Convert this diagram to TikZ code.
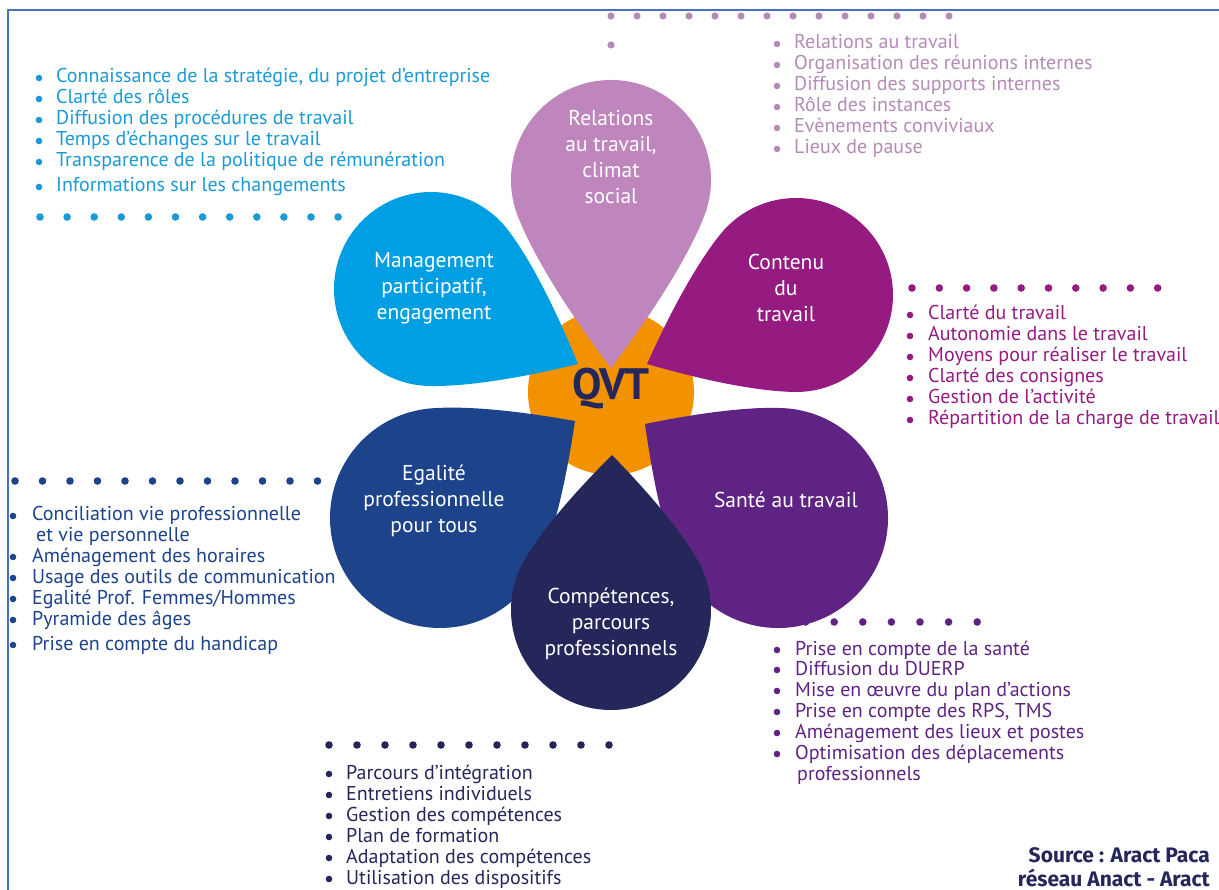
\documentclass[tikz,border=0pt]{standalone}
\usepackage{fontspec}
\setmainfont{PT Sans}
\newfontfamily\srcfont{Fira Sans}
\usetikzlibrary{calc}
\definecolor{cyanP}{HTML}{009FE3}
\definecolor{cyanT}{HTML}{1A9AD6}
\definecolor{lilaP}{HTML}{BE86BD}
\definecolor{lilaT}{HTML}{B48CB6}
\definecolor{magP}{HTML}{951B81}
\definecolor{blueP}{HTML}{1D438B}
\definecolor{purP}{HTML}{5F2483}
\definecolor{navyP}{HTML}{25275B}
\definecolor{orangeP}{HTML}{F39200}
\definecolor{frameC}{HTML}{4472C4}
\tikzset{
  item/.style={anchor=base west, inner sep=0pt, font=\fontsize{20}{21}\selectfont},
  ptxt/.style={text=white, align=center, inner sep=0pt, font=\fontsize{21.5}{26}\selectfont},
  srctxt/.style={anchor=base east, inner sep=0pt, text=navyP, font=\srcfont\bfseries\fontsize{21}{24}\selectfont},
}
\newcommand\bg{17}
% list item: name, x of text, y of line centre, text
\newcommand\li[4]{\fill (#2-\bg,-#3) circle[radius=3.3pt]; \node[item] (#1) at (#2,-#3-5) {#4};}
% dotted row: x0, y, spacing, last index, radius
\newcommand\dotrow[5]{\foreach \i in {0,...,#4} \fill (#1+\i*#3,-#2) circle[radius=#5pt];}
% petal (drop): name, colour, cx, cy, R, tipx, tipy
\newcommand\petal[7]{%
  \coordinate (#1c) at (#3,-#4);
  \coordinate (#1t) at (#6,-#7);
  \path let \p1=($(#1t)-(#1c)$), \n1={veclen(\x1,\y1)}, \n2={atan2(\y1,\x1)},
            \n3={acos(#5/\n1)+10}, \n4={0.40*\n1*sin(\n3-10)} in
    ($(#1c)+(\n2+\n3:#5pt)$) coordinate (#1A)
    ($(#1c)+(\n2+\n3:#5pt)+(\n2+\n3-90:\n4)$) coordinate (#1Ac)
    ($(#1c)+(\n2-\n3:#5pt)$) coordinate (#1B)
    ($(#1c)+(\n2-\n3:#5pt)+(\n2-\n3+90:\n4)$) coordinate (#1Bc);
  \fill[#2] let \p1=($(#1t)-(#1c)$), \n1={veclen(\x1,\y1)}, \n2={atan2(\y1,\x1)},
            \n3={acos(#5/\n1)+10} in
    (#1t) .. controls ($(#1t)!0.25!(#1Ac)$) and (#1Ac) .. (#1A)
    arc[start angle=\n2+\n3, end angle=\n2+360-\n3, radius=#5pt]
    .. controls (#1Bc) and ($(#1t)!0.25!(#1Bc)$) .. (#1t) -- cycle;
}
\begin{document}
\begin{tikzpicture}[x=1pt,y=1pt]
\useasboundingbox (0,0) rectangle (1219,-890);
\fill[white] (0,0) rectangle (1219,-890);
\draw[frameC, line width=2.2pt] (1219,-10) -- (8,-10) -- (8,-890);

% centre
\fill[orangeP] (611,-392) circle[radius=83pt];
\petal{rel}{lilaP}{611}{180}{100}{611}{368}
\petal{man}{cyanP}{431}{289}{97}{578}{364}
\petal{con}{magP}{796}{295}{97}{647}{364}
\petal{ega}{blueP}{440}{518}{110}{575}{421}
\petal{san}{purP}{778}{518}{110}{645}{424}
\petal{com}{navyP}{611}{610}{100}{612}{455}
\node[text=navyP, font=\bfseries\fontsize{44}{46}\selectfont, inner sep=0pt] (qvt) at (611,-389) {QVT};

\node[ptxt] (trel) at (611,-157) {Relations\\au travail,\\climat\\social};
\node[ptxt] (tman) at (434,-288) {Management\\participatif,\\engagement};
\node[ptxt] (tcon) at (786,-288) {Contenu\\du\\travail};
\node[ptxt] (tega) at (434,-501) {Egalité\\professionnelle\\pour tous};
\node[ptxt] (tsan) at (786,-500) {Santé au travail};
\node[ptxt] (tcom) at (611,-624) {Compétences,\\parcours\\professionnels};

% top-left list
\begin{scope}[color=cyanT]
\renewcommand\bg{17}
\li{a1}{56}{78}{Connaissance de la stratégie, du projet d’entreprise}
\li{a2}{56}{99}{Clarté des rôles}
\li{a3}{56}{120}{Diffusion des procédures de travail}
\li{a4}{56}{141}{Temps d’échanges sur le travail}
\li{a5}{56}{162}{Transparence de la politique de rémunération}
\li{a6}{56}{187}{Informations sur les changements}
\dotrow{40}{217}{27.1}{11}{3.8}
\end{scope}

% top list
\begin{scope}[color=lilaT]
\renewcommand\bg{17}
\dotrow{611}{16}{26}{13}{3.6}
\fill (611,-45) circle[radius=3.6pt];
\li{b1}{794}{44}{Relations au travail}
\li{b2}{794}{65}{Organisation des réunions internes}
\li{b3}{794}{86}{Diffusion des supports internes}
\li{b4}{794}{107}{Rôle des instances}
\li{b5}{794}{128}{Evènements conviviaux}
\li{b6}{794}{149}{Lieux de pause}
\end{scope}

% right list
\begin{scope}[color=magP]
\renewcommand\bg{18}
\dotrow{912}{288}{27.3}{9}{3.8}
\li{c1}{928}{315}{Clarté du travail}
\li{c2}{928}{336}{Autonomie dans le travail}
\li{c3}{928}{357}{Moyens pour réaliser le travail}
\li{c4}{928}{378}{Clarté des consignes}
\li{c5}{928}{399}{Gestion de l’activité}
\li{c6}{928}{420}{Répartition de la charge de travail}
\end{scope}

% left list
\begin{scope}[color=blueP]
\renewcommand\bg{19}
\dotrow{15}{481}{27.5}{11}{3.8}
\li{d1}{32}{516}{Conciliation vie professionnelle}
\node[item] (d1b) at (36,-536-5) {et vie personnelle};
\li{d2}{32}{557}{Aménagement des horaires}
\li{d3}{32}{578}{Usage des outils de communication}
\li{d4}{32}{599}{Egalité Prof. Femmes/Hommes}
\li{d5}{32}{620}{Pyramide des âges}
\li{d6}{32}{645}{Prise en compte du handicap}
\end{scope}

% bottom-right list
\begin{scope}[color=purP]
\renewcommand\bg{18}
\dotrow{777}{622}{28.6}{7}{3.8}
\li{e1}{795}{650}{Prise en compte de la santé}
\li{e2}{795}{670}{Diffusion du DUERP}
\li{e3}{795}{691}{Mise en œuvre du plan d’actions}
\li{e4}{795}{712}{Prise en compte des RPS, TMS}
\li{e5}{795}{733}{Aménagement des lieux et postes}
\li{e6}{795}{754}{Optimisation des déplacements}
\node[item] (e6b) at (797,-775-5) {professionnels};
\end{scope}

% bottom list
\begin{scope}[color=navyP]
\renewcommand\bg{17}
\dotrow{329}{745}{28}{10}{3.8}
\li{f1}{346}{774}{Parcours d’intégration}
\li{f2}{346}{795}{Entretiens individuels}
\li{f3}{346}{816}{Gestion des compétences}
\li{f4}{346}{837}{Plan de formation}
\li{f5}{346}{858}{Adaptation des compétences}
\li{f6}{346}{879}{Utilisation des dispositifs}
\end{scope}

\node[srctxt] (src1) at (1210,-862) {Source : Aract Paca};
\node[srctxt] (src2) at (1210,-886) {réseau Anact - Aract};
\end{tikzpicture}
\end{document}
